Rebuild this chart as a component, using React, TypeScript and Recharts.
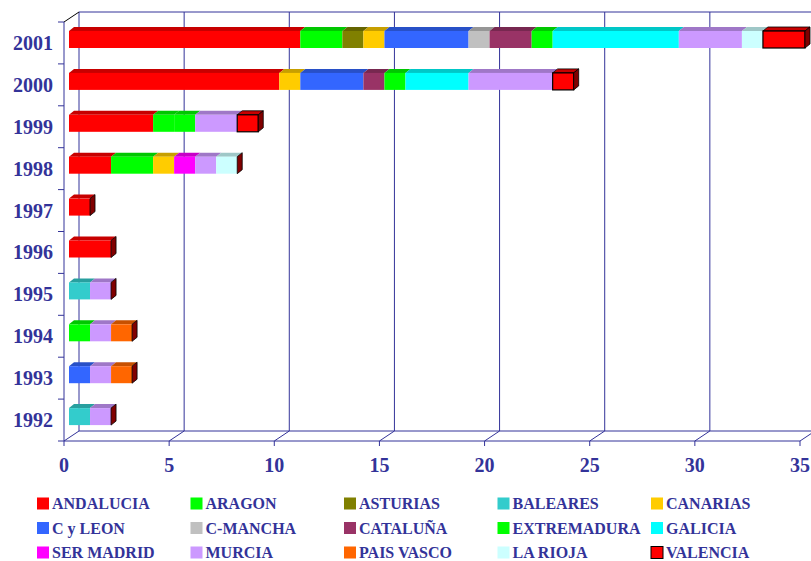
import React from 'react';
import { BarChart, Bar, XAxis, YAxis, CartesianGrid, Legend } from 'recharts';

// Categories, top to bottom
const years = ['2001', '2000', '1999', '1998', '1997', '1996', '1995', '1994', '1993', '1992'];

// Values per region, aligned with `years`
const andalucia = [11, 10, 4, 2, 1, 2, 0, 0, 0, 0];
const aragon = [2, 0, 1, 2, 0, 0, 0, 0, 0, 0];
const asturias = [1, 0, 0, 0, 0, 0, 0, 0, 0, 0];
const baleares = [0, 0, 0, 0, 0, 0, 1, 0, 0, 1];
const canarias = [1, 1, 0, 1, 0, 0, 0, 0, 0, 0];
const cyLeon = [4, 3, 0, 0, 0, 0, 0, 0, 1, 0];
const cMancha = [1, 0, 0, 0, 0, 0, 0, 0, 0, 0];
const cataluna = [2, 1, 0, 0, 0, 0, 0, 0, 0, 0];
const extremadura = [1, 1, 1, 0, 0, 0, 0, 1, 0, 0];
const galicia = [6, 3, 0, 0, 0, 0, 0, 0, 0, 0];
const serMadrid = [0, 0, 0, 1, 0, 0, 0, 0, 0, 0];
const murcia = [3, 4, 2, 1, 0, 0, 1, 1, 1, 1];
const paisVasco = [0, 0, 0, 0, 0, 0, 0, 1, 1, 0];
const laRioja = [1, 0, 0, 1, 0, 0, 0, 0, 0, 0];
const valencia = [2, 1, 1, 0, 0, 0, 0, 0, 0, 0];

const xTicks = [0, 5, 10, 15, 20, 25, 30, 35];

type Series = { key: string; name: string; values: number[]; color: string; outlined?: boolean };

const series: Series[] = [
  { key: 'andalucia', name: 'ANDALUCIA', values: andalucia, color: '#FF0000' },
  { key: 'aragon', name: 'ARAGON', values: aragon, color: '#00FF00' },
  { key: 'asturias', name: 'ASTURIAS', values: asturias, color: '#808000' },
  { key: 'baleares', name: 'BALEARES', values: baleares, color: '#33CCCC' },
  { key: 'canarias', name: 'CANARIAS', values: canarias, color: '#FFCC00' },
  { key: 'cyLeon', name: 'C y LEON', values: cyLeon, color: '#3366FF' },
  { key: 'cMancha', name: 'C-MANCHA', values: cMancha, color: '#C0C0C0' },
  { key: 'cataluna', name: 'CATALUÑA', values: cataluna, color: '#993366' },
  { key: 'extremadura', name: 'EXTREMADURA', values: extremadura, color: '#00FF00' },
  { key: 'galicia', name: 'GALICIA', values: galicia, color: '#00FFFF' },
  { key: 'serMadrid', name: 'SER MADRID', values: serMadrid, color: '#FF00FF' },
  { key: 'murcia', name: 'MURCIA', values: murcia, color: '#CC99FF' },
  { key: 'paisVasco', name: 'PAIS VASCO', values: paisVasco, color: '#FF6600' },
  { key: 'laRioja', name: 'LA RIOJA', values: laRioja, color: '#CCFFFF' },
  { key: 'valencia', name: 'VALENCIA', values: valencia, color: '#FF0000', outlined: true },
];

const data = years.map((year, i) => {
  const row: Record<string, string | number> = { year };
  series.forEach((s) => {
    row[s.key] = s.values[i];
  });
  return row;
});

const AXIS = '#333399';
const FONT = '"Liberation Serif", "Times New Roman", serif';
const CAP = '#800000';

// depth of the back wall / floor
const DX = 15;
const DY = 10;
// depth of each 3D bar and where its front face sits
const BX = 5;
const BY = 4;
const SHIFT_X = 5;
const SHIFT_Y = -3;

function darken(hex: string, f: number) {
  const n = parseInt(hex.slice(1), 16);
  const r = Math.round(((n >> 16) & 255) * f);
  const g = Math.round(((n >> 8) & 255) * f);
  const b = Math.round((n & 255) * f);
  return `rgb(${r},${g},${b})`;
}

function makeShape(idx: number) {
  const s = series[idx];
  const top = darken(s.color, 0.78);
  return (props: any) => {
    const { x, y, width, height, payload } = props;
    if (!width || width <= 0 || !payload) return <g />;
    const isLast = series.slice(idx + 1).every((t) => !payload[t.key]);
    const fx = x + SHIFT_X;
    const fy = y + SHIFT_Y;
    const w = width;
    const h = height;
    const stroke = s.outlined ? '#000' : 'none';
    return (
      <g>
        <polygon
          points={`${fx},${fy} ${fx + w},${fy} ${fx + w + BX},${fy - BY} ${fx + BX},${fy - BY}`}
          fill={top}
          stroke={stroke}
          strokeWidth={0.8}
        />
        <rect x={fx} y={fy} width={w} height={h} fill={s.color} stroke={stroke} strokeWidth={1.2} />
        {isLast && (
          <polygon
            points={`${fx + w},${fy} ${fx + w + BX},${fy - BY} ${fx + w + BX},${fy + h - BY} ${fx + w},${fy + h}`}
            fill={CAP}
            stroke="#000"
            strokeWidth={0.8}
          />
        )}
      </g>
    );
  };
}

// Back wall gridlines with their floor diagonals, plus the wall outline
const renderGridLine = (props: any) => {
  const { x1, y1, y2, index, x, width } = props;
  const bx = x1 + DX;
  const parts = [
    <line key="w" x1={bx} y1={y1 - DY} x2={bx} y2={y2 - DY} stroke={AXIS} strokeWidth={1} />,
    <line key="f" x1={x1} y1={y2} x2={bx} y2={y2 - DY} stroke={AXIS} strokeWidth={1} />,
  ];
  if (index === 0) {
    const right = (typeof x === 'number' ? x : x1) + (typeof width === 'number' ? width : 736) + DX + 20;
    parts.push(
      <line key="t" x1={bx} y1={y1 - DY} x2={right} y2={y1 - DY} stroke={AXIS} strokeWidth={1} />,
      <line key="b" x1={bx} y1={y2 - DY} x2={right} y2={y2 - DY} stroke={AXIS} strokeWidth={1} />,
      <line key="d" x1={x1} y1={y1} x2={bx} y2={y1 - DY} stroke="#000" strokeWidth={1} />
    );
  }
  return <g key={`grid-${index}`}>{parts}</g>;
};

const YearTick = (props: any) => {
  const { x, y, payload, index } = props;
  const half = typeof payload?.offset === 'number' && payload.offset > 0 ? payload.offset : 20.95;
  const axisX = x + 8;
  return (
    <g>
      <line x1={axisX - 6} y1={y - half} x2={axisX} y2={y - half} stroke={AXIS} />
      {index === years.length - 1 && (
        <line x1={axisX - 6} y1={y + half} x2={axisX} y2={y + half} stroke={AXIS} />
      )}
      <text x={axisX - 11} y={y + 7} textAnchor="end" fontFamily={FONT} fontWeight="bold" fontSize={20} fill={AXIS}>
        {payload.value}
      </text>
    </g>
  );
};

const ValueTick = (props: any) => {
  const { x, y, payload } = props;
  return (
    <text x={x} y={y + 24} textAnchor="middle" fontFamily={FONT} fontWeight="bold" fontSize={20} fill={AXIS}>
      {payload.value}
    </text>
  );
};

const LegendBlock = () => {
  const colX = [37, 190.5, 344, 497.5, 651];
  const rowY = [13.5, 38, 62.5];
  return (
    <svg width={811} height={71}>
      {series.map((s, i) => {
        const cx = colX[i % 5];
        const cy = rowY[Math.floor(i / 5)];
        return (
          <g key={s.key}>
            <rect
              x={cx}
              y={cy - 6}
              width={12}
              height={12}
              fill={s.color}
              stroke={s.outlined ? '#000' : 'none'}
              strokeWidth={1}
            />
            <text x={cx + 15} y={cy + 5.5} fontFamily={FONT} fontWeight="bold" fontSize={16} fill={AXIS}>
              {s.name}
            </text>
          </g>
        );
      })}
    </svg>
  );
};

export default function App() {
  return (
    <div style={{ position: 'absolute', left: 0, top: 0, width: 811, height: 561, background: '#fff' }}>
      <BarChart
        width={811}
        height={561}
        data={data}
        layout="vertical"
        margin={{ top: 22, right: 11, bottom: 0, left: 8 }}
        barSize={17}
      >
        <CartesianGrid horizontal={false} vertical={renderGridLine} />
        <XAxis
          type="number"
          domain={[0, 35]}
          ticks={xTicks}
          interval={0}
          height={120}
          tickSize={5}
          tickMargin={2}
          axisLine={{ stroke: AXIS }}
          tickLine={{ stroke: AXIS }}
          tick={<ValueTick />}
        />
        <YAxis
          type="category"
          dataKey="year"
          width={56}
          interval={0}
          tickSize={6}
          tickMargin={2}
          axisLine={{ stroke: AXIS }}
          tickLine={false}
          tick={<YearTick />}
        />
        <Legend
          layout="horizontal"
          verticalAlign="middle"
          align="center"
          wrapperStyle={{ top: 490, left: 0, width: 811, height: 71 }}
          content={() => <LegendBlock />}
        />
        {series.map((s, i) => (
          <Bar
            key={s.key}
            dataKey={s.key}
            name={s.name}
            stackId="total"
            fill={s.color}
            isAnimationActive={false}
            shape={makeShape(i)}
          />
        ))}
      </BarChart>
    </div>
  );
}
